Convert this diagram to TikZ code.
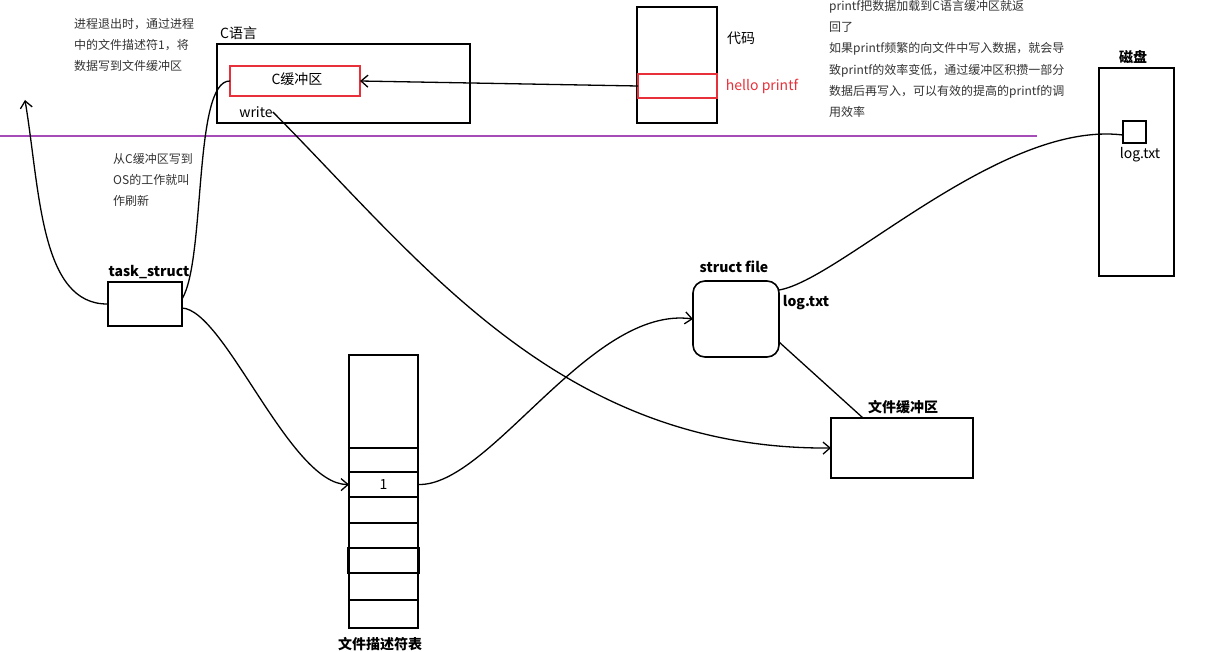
\documentclass[tikz,border=0pt]{standalone}
\usepackage{fontspec}
\setmainfont{Noto Sans CJK SC}
\usepackage{xcolor}
\usetikzlibrary{arrows.meta,positioning,calc}
\definecolor{linepurple}{HTML}{A64CB8}
\definecolor{bufred}{HTML}{E8303A}

\begin{document}
\begin{tikzpicture}[
  x=1pt, y=-1pt,
  font=\fontsize{14}{16}\selectfont,
  box/.style={
    draw=black,
    line width=1.6pt,
    inner sep=0pt,
    outer sep=0pt
  },
  redbox/.style={
    draw=bufred,
    line width=1.5pt,
    inner sep=0pt,
    outer sep=0pt
  },
  title/.style={font=\fontsize{14}{16}\selectfont\bfseries, inner sep=0pt},
  plain/.style={inner sep=0pt},
  note/.style={
    font=\fontsize{12}{21.3}\selectfont,
    align=left,
    anchor=north west,
    inner sep=0pt,
    text=black!80
  },
  arrow/.style={-{Straight Barb[length=7pt,width=12pt]},line width=1.3pt},
  link/.style={line width=1.3pt}
]
\useasboundingbox (0,0) rectangle (1209,652);

% 1. User space: C buffer and code
\draw[linepurple,line width=2.4pt] (0,136) -- (1037,136);
\node[box,minimum width=253pt,minimum height=79pt] (cbox) at (343.5,83.5) {};
\node[plain,anchor=west] (clang) at (220,33) {C语言};
\node[redbox,minimum width=130pt,minimum height=30pt] (cbuf) at (295,81) {};
\node[plain] at (297,79) {C缓冲区};
\node[plain] (write) at (256,112) {write};

\node[box,minimum width=80pt,minimum height=116pt] (codebox) at (677,65) {};
\node[redbox,minimum width=79pt,minimum height=24pt] (codeline) at (677.5,86) {};
\node[plain] (code) at (741,38) {代码};
\node[plain,text=bufred] (hello) at (762,86) {hello printf};

% 2. Notes
\node[note] (exitnote) at (74,18) {进程退出时，通过进程\\中的文件描述符1，将\\数据写到文件缓冲区};
\node[note] (printfnote) at (829,0) {printf把数据加载到C语言缓冲区就返\\回了\\如果printf频繁的向文件中写入数据，就会导\\致printf的效率变低，通过缓冲区积攒一部分\\数据后再写入，可以有效的提高的printf的调\\用效率};
\node[note] (flushnote) at (113,153) {从C缓冲区写到\\OS的工作就叫\\作刷新};

% 3. Kernel side
\node[box,minimum width=74pt,minimum height=44pt] (task) at (145,304) {};
\node[title] at (149,272) {task\_struct};

\node[box,minimum width=69pt,minimum height=273pt] (fdtab) at (383.5,491.5) {};
\foreach \y in {448,523,573,600}
  \draw[line width=1.3pt] (fdtab.west |- 0,\y) -- (fdtab.east |- 0,\y);
\node[box,line width=1.3pt,minimum width=69pt,minimum height=25pt] (fdone) at (383.5,484.5) {1};
\node[box,line width=2pt,minimum width=71pt,minimum height=25pt] (fdthick) at (383,560.5) {};
\node[title] at (380,644) {文件描述符表};

\node[box,rounded corners=12pt,minimum width=86pt,minimum height=76pt] (sfile) at (736,319) {};
\node[title] at (734,267) {struct file};
\node[title] at (806,303) {log.txt};

\node[box,minimum width=142pt,minimum height=60pt] (fbuf) at (902,448) {};
\node[title] at (903,407) {文件缓冲区};

\node[box,minimum width=75pt,minimum height=208pt] (disk) at (1136.5,172) {};
\node[title] at (1133,57) {磁盘};
\node[box,minimum width=23pt,minimum height=22pt] (disklog) at (1134.5,132) {};
\node[plain] at (1140,155) {log.txt};

\coordinate (up) at (25,100);

% Connections
\draw[arrow] (codeline.west) -- (cbuf.east);
\draw[arrow] (task.west) .. controls (40,305) and (40,190) .. (up);
\draw[link] ($(task.east)+(0,-5)$) .. controls (206,260) and (193,80) .. (cbuf.west);
\draw[arrow] ($(task.east)+(0,4)$) .. controls (225,310) and (290,485) .. (fdone.west);
\draw[arrow] (fdone.east) .. controls (490,487) and (590,305) .. (sfile.west);
\draw[arrow] (write.east) .. controls (420,260) and (560,450) .. (fbuf.west);
\draw[link] ($(sfile.east)+(0,23)$) -- ($(fbuf.north west)+(32,0)$);
\draw[link] ($(sfile.north east)+(0,9)$) .. controls (840,280) and (1000,120) .. ($(disklog.west)+(0,3)$);

\end{tikzpicture}
\end{document}
